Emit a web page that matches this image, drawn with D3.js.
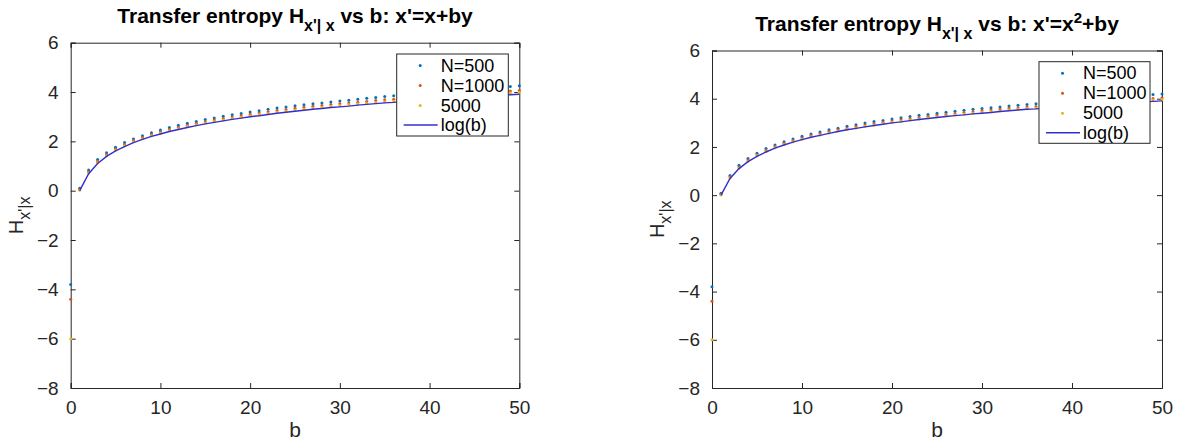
<!DOCTYPE html>
<html><head><meta charset="utf-8">
<script src="https://cdn.jsdelivr.net/npm/d3@7/dist/d3.min.js"></script>
<style>
html,body{margin:0;padding:0;background:#fff;}
svg{display:block;font-family:"Liberation Sans",Arial,Helvetica,sans-serif;}
</style></head><body>
<svg id="chart" width="1182" height="442"></svg>
<script>
// ---- data ----
const bValues = d3.range(0, 51);            // b = 0..50
const xTicks = [0, 10, 20, 30, 40, 50];
const yTicks = [-8, -6, -4, -2, 0, 2, 4, 6];
const seriesNames = ["N=500", "N=1000", "5000", "log(b)"];
const seriesColors = ["#0072BD", "#D95319", "#EDB120", "#3030d0"];

// log(b) curve, b = 1..50
const logB = [0.00,0.69,1.10,1.39,1.61,1.79,1.95,2.08,2.20,2.30,2.40,2.48,2.56,2.64,2.71,2.77,2.83,2.89,2.94,3.00,
  3.04,3.09,3.14,3.18,3.22,3.26,3.30,3.33,3.37,3.40,3.43,3.47,3.50,3.53,3.56,3.58,3.61,3.64,3.66,3.69,
  3.71,3.74,3.76,3.78,3.81,3.83,3.85,3.87,3.89,3.91];

// left panel: x' = x + b y   (b = 0..50)
const leftN500 = [-3.80,0.10,0.84,1.26,1.54,1.76,1.95,2.10,2.23,2.35,2.46,2.56,2.65,2.73,2.81,2.89,2.95,3.02,3.08,3.13,
  3.19,3.24,3.30,3.35,3.39,3.44,3.48,3.52,3.56,3.60,3.64,3.67,3.71,3.75,3.78,3.82,3.85,3.88,3.91,3.94,
  3.97,4.00,4.03,4.06,4.09,4.12,4.15,4.17,4.20,4.22,4.25];
const leftN1000 = [-4.40,0.05,0.77,1.18,1.47,1.69,1.87,2.03,2.16,2.28,2.38,2.48,2.57,2.65,2.73,2.80,2.87,2.93,2.99,3.04,
  3.10,3.15,3.20,3.25,3.29,3.34,3.38,3.42,3.45,3.49,3.52,3.56,3.59,3.62,3.66,3.69,3.71,3.74,3.77,3.80,
  3.83,3.85,3.88,3.90,3.93,3.95,3.97,4.00,4.02,4.04,4.06];
const leftN5000 = [-6.00,0.02,0.72,1.13,1.42,1.64,1.82,1.98,2.11,2.23,2.33,2.43,2.51,2.60,2.67,2.74,2.81,2.87,2.93,2.98,
  3.04,3.09,3.13,3.18,3.22,3.27,3.31,3.35,3.38,3.42,3.45,3.49,3.52,3.55,3.58,3.61,3.64,3.67,3.70,3.72,
  3.75,3.78,3.80,3.83,3.85,3.88,3.90,3.92,3.94,3.97,3.99];

// right panel: x' = x^2 + b y   (b = 0..50)
const rightN500 = [-3.80,0.08,0.82,1.24,1.52,1.74,1.93,2.08,2.21,2.33,2.44,2.54,2.62,2.71,2.78,2.86,2.92,2.99,3.05,3.10,
  3.16,3.21,3.26,3.31,3.35,3.40,3.44,3.48,3.52,3.56,3.59,3.63,3.66,3.70,3.73,3.76,3.79,3.82,3.85,3.88,
  3.91,3.94,3.97,4.00,4.03,4.06,4.09,4.12,4.15,4.18,4.20];
const rightN1000 = [-4.40,0.04,0.76,1.17,1.46,1.68,1.86,2.02,2.15,2.27,2.37,2.47,2.55,2.64,2.71,2.78,2.85,2.91,2.97,3.02,
  3.08,3.13,3.17,3.22,3.27,3.31,3.35,3.39,3.43,3.46,3.50,3.53,3.56,3.60,3.63,3.66,3.68,3.71,3.74,3.77,
  3.80,3.82,3.85,3.87,3.90,3.92,3.95,3.97,3.99,4.01,4.04];
const rightN5000 = [-6.00,0.01,0.71,1.12,1.41,1.63,1.81,1.97,2.10,2.22,2.32,2.42,2.50,2.58,2.66,2.73,2.79,2.86,2.91,2.97,
  3.02,3.07,3.12,3.16,3.21,3.25,3.29,3.33,3.37,3.40,3.44,3.47,3.50,3.54,3.57,3.60,3.62,3.65,3.68,3.71,
  3.73,3.76,3.78,3.81,3.83,3.86,3.88,3.90,3.92,3.95,3.97];

// ---- drawing ----
const svg = d3.select("#chart");
const AX = "#262626";

const panels = [
  {x0: 70.7, x1: 519.3, y0: 42.7, y1: 388, sup: false, series: [leftN500, leftN1000, leftN5000],
   legend: {x: 396.7, y: 54, w: 111.6, h: 82}},
  {x0: 712, x1: 1162, y0: 50.5, y1: 388, sup: true, series: [rightN500, rightN1000, rightN5000],
   legend: {x: 1039, y: 61.7, w: 111, h: 81.6}}
];

panels.forEach((p, pi) => {
  const x = d3.scaleLinear().domain([0, 50]).range([p.x0, p.x1]);
  const y = d3.scaleLinear().domain([-8, 6]).range([p.y1, p.y0]);
  const g = svg.append("g");

  // axes: bottom/left with inner ticks, plus top/right box
  const tick = 5;
  const bottom = d3.axisBottom(x).tickValues(xTicks).tickSize(-tick).tickPadding(tick + 8);
  const left = d3.axisLeft(y).tickValues(yTicks).tickSize(-tick).tickPadding(tick + 7);
  const top = d3.axisTop(x).tickValues(xTicks).tickSize(-tick).tickFormat("");
  const right = d3.axisRight(y).tickValues(yTicks).tickSize(-tick).tickFormat("");
  const style = sel => {
    sel.selectAll("path,line").attr("stroke", AX).attr("stroke-width", 1);
    sel.selectAll("text").attr("fill", AX).attr("font-size", 19)
      .attr("font-family", "Liberation Sans, Arial, sans-serif");
  };
  g.append("g").attr("transform", `translate(0,${p.y1})`).call(bottom).call(style);
  g.append("g").attr("transform", `translate(${p.x0},0)`).call(left).call(style);
  g.append("g").attr("transform", `translate(0,${p.y0})`).call(top).call(style);
  g.append("g").attr("transform", `translate(${p.x1},0)`).call(right).call(style);
  g.selectAll(".domain").attr("stroke", AX);

  // data points (drawn over the axes, as in the original)
  p.series.forEach((vals, si) => {
    g.append("g").selectAll("circle").data(bValues).join("circle")
      .attr("cx", d => x(d)).attr("cy", (d, i) => y(vals[i]))
      .attr("r", 1.5).attr("fill", seriesColors[si]);
  });
  // log(b) line
  const line = d3.line().x((d, i) => x(i + 1)).y(d => y(d));
  g.append("path").datum(logB).attr("d", line)
    .attr("fill", "none").attr("stroke", seriesColors[3]).attr("stroke-width", 1.4);

  // title
  const cx = (p.x0 + p.x1) / 2;
  const t = g.append("text").attr("x", cx).attr("y", p.y0 - 19.5)
    .attr("text-anchor", "middle").attr("font-size", 21).attr("font-weight", "bold").attr("fill", "#000");
  t.append("tspan").text("Transfer entropy H");
  t.append("tspan").attr("font-size", 16).attr("dy", 8).text("x'| x");
  if (!p.sup) {
    t.append("tspan").attr("dy", -8).text(" vs b: x'=x+by");
  } else {
    t.append("tspan").attr("dy", -8).text(" vs b: x'=x");
    t.append("tspan").attr("font-size", 15).attr("dy", -8).text("2");
    t.append("tspan").attr("dy", 8).text("+by");
  }

  // x label
  g.append("text").attr("x", cx).attr("y", 436.5).attr("text-anchor", "middle")
    .attr("font-size", 21).attr("fill", AX).text("b");
  // y label
  const ly = (p.y0 + p.y1) / 2;
  const yl = g.append("text")
    .attr("transform", `translate(${p.x0 - 48},${ly}) rotate(-90)`)
    .attr("text-anchor", "middle").attr("fill", AX).attr("font-size", 20);
  yl.append("tspan").text("H");
  yl.append("tspan").attr("font-size", 16).attr("dy", 7).text("x'|x");

  // legend
  const L = p.legend;
  const lg = g.append("g").attr("transform", `translate(${L.x},${L.y})`);
  lg.append("rect").attr("width", L.w).attr("height", L.h)
    .attr("fill", "#fff").attr("stroke", AX).attr("stroke-width", 1);
  const rowY = [11.5, 31.5, 51.5, 71];
  seriesNames.forEach((name, i) => {
    if (i < 3) {
      lg.append("circle").attr("cx", 23.5).attr("cy", rowY[i]).attr("r", 1.5).attr("fill", seriesColors[i]);
    } else {
      lg.append("line").attr("x1", 7).attr("x2", 41).attr("y1", rowY[i]).attr("y2", rowY[i])
        .attr("stroke", seriesColors[i]).attr("stroke-width", 1.4);
    }
    lg.append("text").attr("x", 44).attr("y", rowY[i]).attr("dy", "0.35em")
      .attr("font-size", 18).attr("fill", "#000").text(name);
  });
});
</script>
</body></html>
